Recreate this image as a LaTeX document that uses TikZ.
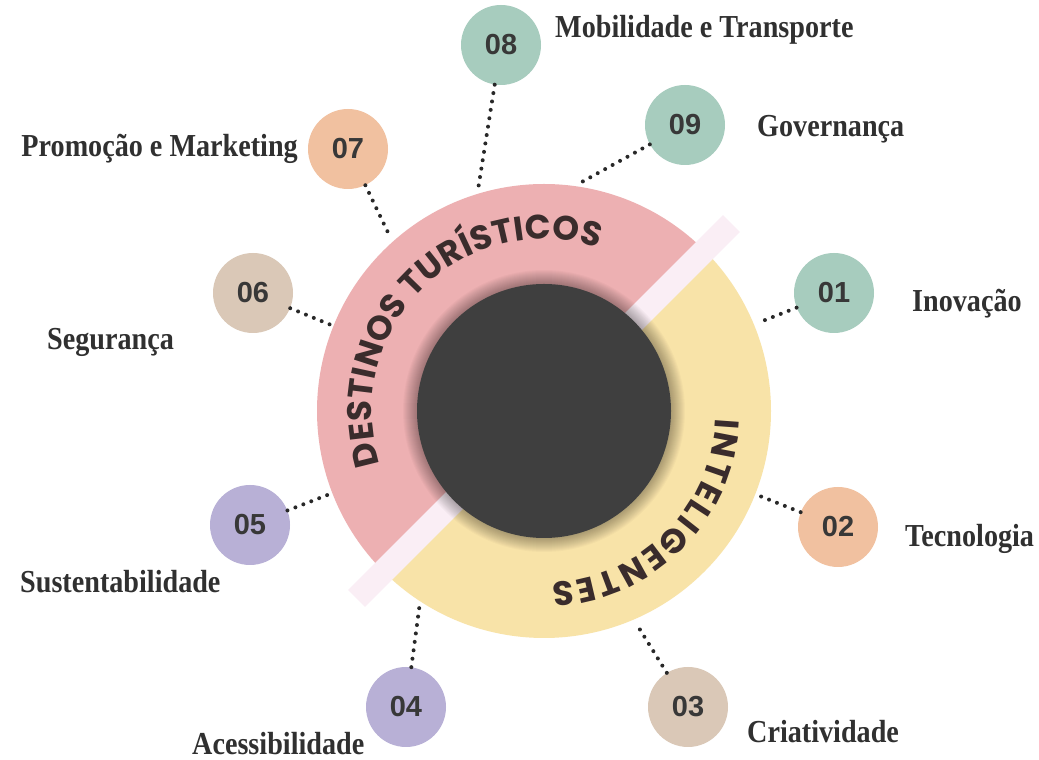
\documentclass[tikz,border=0pt]{standalone}
\usepackage{fontspec}
\usetikzlibrary{decorations.text,calc}
\newfontfamily\labfont[FakeStretch=0.88]{Liberation Serif}
\newfontfamily\numfont{Liberation Sans}
\newfontfamily\ringfont{Poppins}
\definecolor{ringpink}{RGB}{237,176,178}
\definecolor{ringyellow}{RGB}{248,227,168}
\definecolor{bandcol}{RGB}{250,238,245}
\definecolor{darkc}{RGB}{63,63,63}
\definecolor{ringtxt}{RGB}{58,44,44}
\definecolor{cgreen}{RGB}{167,204,190}
\definecolor{cpeach}{RGB}{241,193,160}
\definecolor{cbeige}{RGB}{218,200,183}
\definecolor{clav}{RGB}{184,176,214}
\definecolor{numtxt}{RGB}{56,56,56}
\definecolor{labtxt}{RGB}{48,48,48}
\definecolor{dotcol}{RGB}{40,40,40}
\begin{document}
\begin{tikzpicture}[x=1pt,y=1pt,
  numc/.style={circle,minimum size=80,inner sep=0pt,text=numtxt,
    font=\numfont\bfseries\fontsize{29}{29}\selectfont},
  lab/.style={text=labtxt,inner sep=0pt,font=\labfont\bfseries\fontsize{32}{32}\selectfont},
  dotline/.style={dotcol,line width=4pt,line cap=round,dash pattern=on 0pt off 8.5pt},
  ringtext/.style={decorate,decoration={text along path,text align=fit to path,
    text color=ringtxt,text={|\ringfont\bfseries\fontsize{34}{34}\selectfont|#1}}}
]
\fill[white] (0,0) rectangle (1039,760);
\useasboundingbox (0,0) rectangle (1039,760);
\coordinate (C) at (544,349);
% ring halves
\fill[ringpink] (C) -- ($(C)+(45:227)$) arc[start angle=45,end angle=225,radius=227] -- cycle;
\fill[ringyellow] (C) -- ($(C)+(225:227)$) arc[start angle=225,end angle=405,radius=227] -- cycle;
% separating band
\begin{scope}[shift={(C)},rotate=45]
  \fill[bandcol] (-265,-12) rectangle (265,12);
\end{scope}
% soft shadow round the core
\foreach \k in {1,...,14}{\fill[black,opacity=0.022] (C) circle[radius=127+\k];}
% core
\node[circle,fill=darkc,minimum size=254,inner sep=0pt] (core) at (C) {};
% ring texts
\path[ringtext={DESTINOS TURÍSTICOS}] ($(C)+(198:172)$) arc[start angle=198,end angle=71.5,radius=172];
\path[ringtext={INTELIGENTES}] ($(C)+(-2.5:172)$) arc[start angle=-2.5,end angle=-87.5,radius=172];
% edge coordinates on ring
\coordinate (e1) at ($(C)+(22.4:231)$);
\coordinate (e2) at ($(C)+(338.5:231)$);
\coordinate (e3) at ($(C)+(293.5:233)$);
\coordinate (e4) at ($(C)+(237.4:231)$);
\coordinate (e5) at ($(C)+(201.2:231)$);
\coordinate (e6) at ($(C)+(158:231)$);
\coordinate (e7) at ($(C)+(131.5:232)$);
\coordinate (e8) at ($(C)+(106.6:231)$);
\coordinate (e9) at ($(C)+(81.3:230)$);
% number circles
\node[numc,fill=cgreen] (n1) at (834,467) {01};
\node[numc,fill=cpeach] (n2) at (838,233) {02};
\node[numc,fill=cbeige] (n3) at (688,53) {03};
\node[numc,fill=clav] (n4) at (406,53) {04};
\node[numc,fill=clav] (n5) at (250,235) {05};
\node[numc,fill=cbeige] (n6) at (253,467) {06};
\node[numc,fill=cpeach] (n7) at (348,611) {07};
\node[numc,fill=cgreen] (n8) at (501,715) {08};
\node[numc,fill=cgreen] (n9) at (685,635) {09};
% connectors
\foreach \i in {1,...,9}{\draw[dotline] (n\i) -- (e\i);}
% labels
\node[lab,anchor=base west] (l1) at (912,448) {Inovação};
\node[lab,anchor=base west] (l2) at (905,213) {Tecnologia};
\node[lab,anchor=base west] (l3) at (747,17) {Criatividade};
\node[lab,anchor=base west] (l4) at (192,5) {Acessibilidade};
\node[lab,anchor=base west] (l5) at (20,167) {Sustentabilidade};
\node[lab,anchor=base west] (l6) at (47,410) {Segurança};
\node[lab,anchor=base east] (l7) at (298,603) {Promoção e Marketing};
\node[lab,anchor=base west] (l8) at (555,722) {Mobilidade e Transporte};
\node[lab,anchor=base west] (l9) at (757,623) {Governança};
\end{tikzpicture}
\end{document}
